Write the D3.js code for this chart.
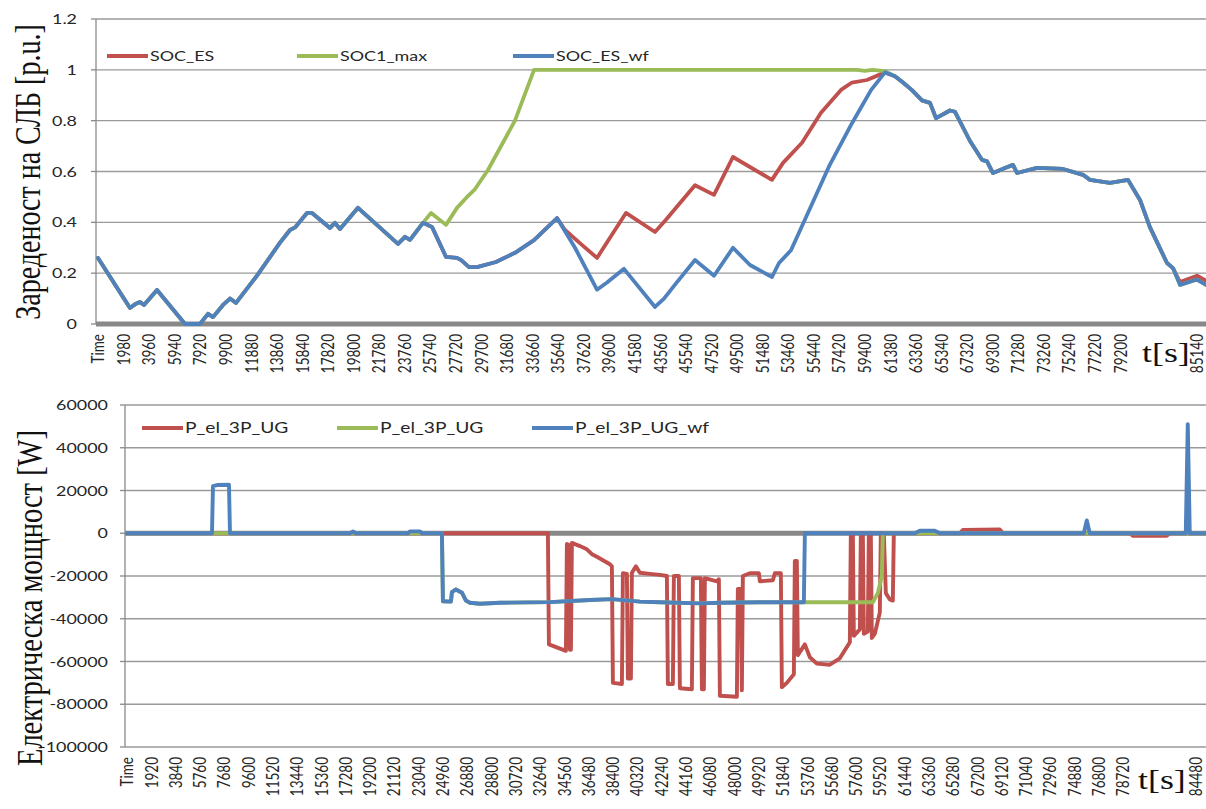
<!DOCTYPE html>
<html>
<head>
<meta charset="utf-8">
<script src="https://cdn.jsdelivr.net/npm/d3@7"></script>
<style>
  html, body { margin: 0; padding: 0; background: #fff; }
  svg { display: block; }
</style>
</head>
<body>
<svg id="chart" width="1206" height="809"></svg>
<script>
// ---------- State of charge of the storage, [time s, p.u.] ----------
// segment common to all three SOC traces
const socCommonStart = [
  [0, 0.26], [2479, 0.063], [2944, 0.08], [3254, 0.087], [3564, 0.075], [4571, 0.134],
  [6740, 0.0], [7902, 0.0], [8522, 0.04], [8909, 0.027], [9684, 0.075], [10226, 0.10],
  [10691, 0.083], [12318, 0.19], [14100, 0.32], [14874, 0.37], [15262, 0.38], [16191, 0.437],
  [16578, 0.437], [17973, 0.378], [18360, 0.398], [18748, 0.374], [20142, 0.457],
  [23241, 0.315], [23783, 0.343], [24171, 0.331], [25178, 0.398]
];
// SOC_ES and SOC_ES_wf coincide here
const socSharedRise = [
  [25875, 0.382], [26960, 0.264], [27810, 0.26], [28120, 0.252], [28740, 0.224],
  [29360, 0.224], [30830, 0.244], [32305, 0.28], [33780, 0.33], [35560, 0.417]
];
const socEsMid = [
  [36180, 0.37], [37400, 0.315], [38660, 0.26], [39800, 0.35], [40900, 0.437],
  [43150, 0.362], [44000, 0.41], [44780, 0.457], [46250, 0.546], [47720, 0.508],
  [49190, 0.657], [52210, 0.567], [53070, 0.634], [54540, 0.713], [56010, 0.831],
  [57560, 0.921], [58410, 0.95], [59570, 0.96], [60970, 0.99]
];
const socWfMid = [
  [36953, 0.30], [38657, 0.135], [39432, 0.163], [40749, 0.217], [43151, 0.067],
  [43848, 0.10], [44778, 0.16], [46250, 0.252], [47724, 0.19], [49193, 0.30],
  [50510, 0.232], [52215, 0.185], [52757, 0.24], [53687, 0.29], [54849, 0.42],
  [56631, 0.62], [58412, 0.79], [59884, 0.92], [60968, 0.99]
];
const soc1MaxMid = [
  [25800, 0.437], [26960, 0.39], [27810, 0.457], [28590, 0.50], [29200, 0.53],
  [30210, 0.606], [32300, 0.80], [33780, 1.0], [58800, 1.0], [59400, 0.996],
  [60000, 1.0], [60970, 0.995]
];
const socCommonTail = [
  [61740, 0.975], [62363, 0.95], [63060, 0.92], [63835, 0.88], [64455, 0.87], [64920, 0.81],
  [66004, 0.84], [66392, 0.835], [67554, 0.72], [68483, 0.646], [68871, 0.64],
  [69336, 0.594], [70265, 0.614], [70885, 0.626], [71195, 0.594], [72744, 0.614],
  [74759, 0.61], [76308, 0.587], [76850, 0.567], [78400, 0.555], [79794, 0.567],
  [80724, 0.488], [81498, 0.38], [82815, 0.24], [83280, 0.22]
];
const socEsEnd = [[83823, 0.165], [85140, 0.19], [85837, 0.17]];
const socWfEnd = [[83823, 0.154], [85140, 0.175], [85837, 0.154]];

const socTicks = [0, 0.2, 0.4, 0.6, 0.8, 1, 1.2];
const socTimeLabels = ["Time", "1980", "3960", "5940", "7920", "9900", "11880", "13860",
  "15840", "17820", "19800", "21780", "23760", "25740", "27720", "29700", "31680", "33660",
  "35640", "37620", "39600", "41580", "43560", "45540", "47520", "49500", "51480", "53460",
  "55440", "57420", "59400", "61380", "63360", "65340", "67320", "69300", "71280", "73260",
  "75240", "77220", "79200", "85140"];

// ---------- Three-phase electric power, [time s, W] ----------
const pWfStart = [
  [0, 0], [6716, 0], [6795, 22000], [7190, 22600], [8059, 22700], [8138, 0],
  [17619, 0], [17856, 800], [18093, 0], [22202, 0], [22360, 900], [23150, 900],
  [23308, 0], [24888, 0]
];
// charging plateau shared by P_el_3P_UG (green) and P_el_3P_UG_wf
const pChargePlateau = [
  [24967, -31800], [25599, -32000], [25678, -27500], [25994, -26300], [26468, -27800],
  [26784, -31500], [27100, -32500], [27890, -33000], [29470, -32500], [33422, -32200],
  [36582, -31200], [38320, -30800], [40532, -32000], [42112, -32300], [45272, -32800],
  [46852, -32500], [50013, -32300], [53490, -32300]
];
const pWfEnd = [
  [53570, 0], [62260, 0], [62655, 1200], [63840, 1200], [64235, 0], [75613, 0],
  [75850, 6000], [76087, 0], [83672, 0], [83830, 51000], [83988, 0], [85252, 0]
];
const pMaxStart = [[0, 0], [24888, 0]];
const pMaxEnd = [
  [53570, -32300], [58941, -32300], [59336, -28000], [59652, -20000], [59731, 0], [85252, 0]
];
const pUg = [
  [0, 0], [33263, 0], [33342, -52000], [34685, -55000], [34764, -5000], [34922, -5500],
  [35001, -54500], [35080, -54500], [35159, -4500], [35792, -6000], [36345, -7500],
  [36740, -9800], [37135, -11000], [38162, -14500], [38320, -15500], [38399, -70000],
  [39110, -70500], [39189, -18700], [39505, -19000], [39584, -68000], [39821, -68000],
  [39900, -18500], [40216, -15500], [40532, -18500], [41322, -19000], [42112, -19500],
  [42665, -20000], [42744, -70500], [43139, -70500], [43218, -20000], [43613, -20000],
  [43692, -72500], [44640, -73000], [44719, -21000], [45352, -21000], [45431, -73000],
  [45589, -73000], [45668, -21000], [46616, -22500], [46774, -21500], [46853, -76000],
  [48196, -76500], [48275, -26000], [48512, -26000], [48591, -73500], [48670, -20000],
  [49223, -18700], [49934, -18700], [50013, -22500], [51040, -22000], [51198, -18700],
  [51672, -18700], [51751, -72000], [52146, -70000], [52699, -66000], [52778, -13000],
  [52936, -13000], [53015, -57000], [53569, -52000], [53964, -58000], [54517, -61000],
  [55544, -61500], [56334, -58500], [57124, -51000], [57203, 0], [57361, 0],
  [57440, -48000], [57914, -45000], [57993, 0], [58151, 0], [58230, -47000],
  [58546, -46000], [58625, 0], [58783, 0], [58862, -49000], [59099, -47000],
  [59494, -37000], [59573, 0], [59810, 0], [59968, -28000], [60284, -31000],
  [60521, -31500], [60600, 0], [65814, 0], [66051, 1500], [68975, 1800], [69212, 0],
  [79247, 0], [79484, -1200], [82170, -1200], [82407, 0], [85252, 0]
];

const powerTicks = [-100000, -80000, -60000, -40000, -20000, 0, 20000, 40000, 60000];
const powerTimeLabels = ["Time", "1920", "3840", "5760", "7680", "9600", "11520", "13440",
  "15360", "17280", "19200", "21120", "23040", "24960", "26880", "28800", "30720", "32640",
  "34560", "36480", "38400", "40320", "42240", "44160", "46080", "48000", "49920", "51840",
  "53760", "55680", "57600", "59520", "61440", "63360", "65280", "67200", "69120", "71040",
  "72960", "74880", "76800", "78720", "84480"];

// ---------- drawing ----------
const COLORS = { red: "#c0504d", green: "#9bbb59", blue: "#4f81bd" };
const SANS = "Lato, 'Open Sans', sans-serif";
const SERIF = "'Liberation Serif', 'Times New Roman', serif";
const WIDE = 1.28;          // horizontal widening used for all labels
const RIGHT = 1206;

const svg = d3.select("#chart");

function drawPanel(p) {
  const g = svg.append("g");
  const x = d3.scaleLinear().domain(p.xDomain).range(p.xRange);
  const y = d3.scaleLinear().domain(p.yDomain).range(p.yRange);

  // horizontal gridlines
  g.append("g").selectAll("line")
    .data(p.yTicks.filter(v => v !== 0))
    .join("line")
    .attr("x1", p.axisX).attr("x2", RIGHT)
    .attr("y1", d => y(d)).attr("y2", d => y(d))
    .attr("stroke", "#9a9a9a").attr("stroke-width", 1.3);

  // value axis
  g.append("line")
    .attr("x1", p.axisX).attr("x2", p.axisX)
    .attr("y1", y(p.yDomain[1])).attr("y2", y(p.yDomain[0]))
    .attr("stroke", "#8a8a8a").attr("stroke-width", 1.3);
  g.append("g").selectAll("line")
    .data(p.yTicks).join("line")
    .attr("x1", p.axisX - 5).attr("x2", p.axisX)
    .attr("y1", d => y(d)).attr("y2", d => y(d))
    .attr("stroke", "#8a8a8a").attr("stroke-width", 1.3);
  g.append("g").selectAll("text")
    .data(p.yTicks).join("text")
    .attr("transform", d => `translate(${p.labelRight},${y(d)}) scale(${WIDE},1)`)
    .attr("text-anchor", "end").attr("dy", "0.36em")
    .attr("font-family", SANS).attr("font-size", 14).attr("fill", "#262626")
    .text(p.yFormat);

  // time axis (thick grey line at zero)
  g.append("line")
    .attr("x1", p.axisX).attr("x2", RIGHT)
    .attr("y1", y(0)).attr("y2", y(0))
    .attr("stroke", "#888").attr("stroke-width", 5);

  g.append("g").selectAll("text")
    .data(p.timeLabels).join("text")
    .attr("transform", d => {
      const t = d === "Time" ? 0 : +d;
      return `translate(${x(t)},${p.timeLabelTop}) scale(${WIDE},1) rotate(-90)`;
    })
    .attr("text-anchor", "end").attr("dy", "0.36em")
    .attr("font-family", SANS).attr("font-size", 13.5).attr("fill", "#262626")
    .text(d => d);

  // series
  const line = d3.line().x(d => x(d[0])).y(d => y(d[1]));
  g.append("g").selectAll("path")
    .data(p.series).join("path")
    .attr("d", s => line(s.values))
    .attr("fill", "none")
    .attr("stroke", s => s.color)
    .attr("stroke-width", p.lineWidth)
    .attr("stroke-linejoin", "round")
    .attr("stroke-linecap", "round");

  // legend
  const lg = g.append("g").selectAll("g")
    .data(p.series).join("g")
    .attr("transform", (s, i) => `translate(${p.legendX[i]},${p.legendY})`);
  lg.append("line")
    .attr("x1", 0).attr("x2", 41).attr("y1", 0).attr("y2", 0)
    .attr("stroke", s => s.color).attr("stroke-width", 4);
  lg.append("text")
    .attr("transform", `translate(43,0) scale(${WIDE},1)`)
    .attr("dy", "0.36em")
    .attr("font-family", SANS).attr("font-size", p.legendSize).attr("fill", "#262626")
    .text(s => s.name);

  // value axis title
  g.append("text")
    .attr("transform", `translate(${p.title.x},${p.title.y}) scale(${WIDE},1) rotate(-90)`)
    .attr("text-anchor", "middle").attr("dy", "0.32em")
    .attr("font-family", SERIF).attr("font-size", p.title.size).attr("fill", "#111")
    .text(p.title.text);

  // time unit label
  g.append("text")
    .attr("transform", `translate(${p.unit.x},${p.unit.y}) scale(${WIDE},1)`)
    .attr("font-family", SERIF).attr("font-size", 28).attr("fill", "#111")
    .text("t[s]");
}

drawPanel({
  xDomain: [0, 85140], xRange: [98, 1197],
  yDomain: [0, 1.2], yRange: [324, 19],
  yTicks: socTicks,
  yFormat: d => String(+d.toFixed(1)),
  axisX: 96, labelRight: 77, timeLabelTop: 334,
  timeLabels: socTimeLabels,
  lineWidth: 3.8,
  legendSize: 14,
  series: [
    { name: "SOC_ES", color: COLORS.red,
      values: [...socCommonStart, ...socSharedRise, ...socEsMid, ...socCommonTail, ...socEsEnd] },
    { name: "SOC1_max", color: COLORS.green,
      values: [...socCommonStart, ...soc1MaxMid, ...socCommonTail, ...socWfEnd] },
    { name: "SOC_ES_wf", color: COLORS.blue,
      values: [...socCommonStart, ...socSharedRise, ...socWfMid, ...socCommonTail, ...socWfEnd] }
  ],
  legendX: [107, 297, 513], legendY: 56,
  title: { text: "Зареденост на СЛБ [p.u.]", x: 29, y: 172, size: 28 },
  unit: { x: 1142, y: 362 }
});

drawPanel({
  xDomain: [0, 84480], xRange: [127, 1196],
  yDomain: [-100000, 60000], yRange: [747, 405],
  yTicks: powerTicks,
  yFormat: d => String(d),
  axisX: 125, labelRight: 108, timeLabelTop: 757,
  timeLabels: powerTimeLabels,
  lineWidth: 3.9,
  legendSize: 15,
  series: [
    { name: "P_el_3P_UG", color: COLORS.red, values: pUg },
    { name: "P_el_3P_UG", color: COLORS.green,
      values: [...pMaxStart, ...pChargePlateau, ...pMaxEnd] },
    { name: "P_el_3P_UG_wf", color: COLORS.blue,
      values: [...pWfStart, ...pChargePlateau, ...pWfEnd] }
  ],
  legendX: [142, 337, 532], legendY: 428,
  title: { text: "Електрическа мощност [W]", x: 30, y: 598, size: 28.5 },
  unit: { x: 1138, y: 789 }
});
</script>
</body>
</html>
